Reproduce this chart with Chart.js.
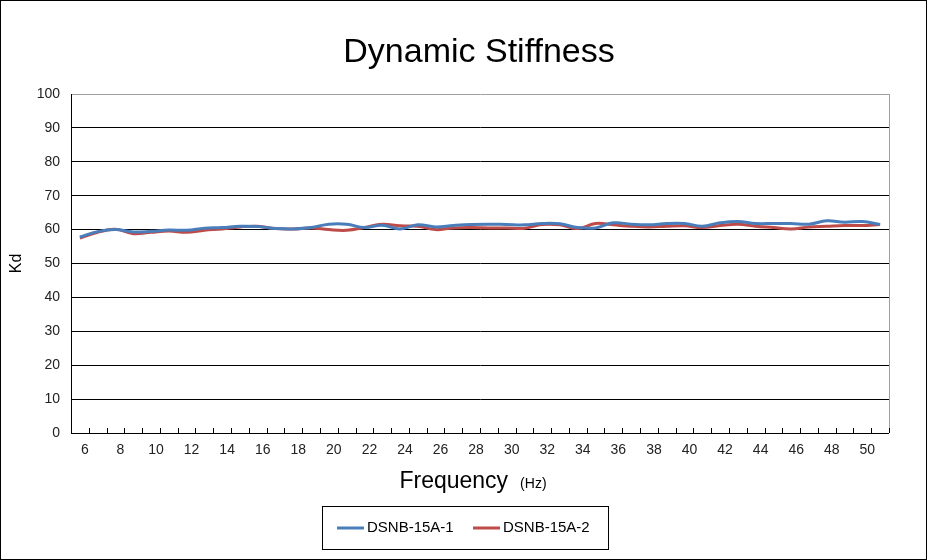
<!DOCTYPE html>
<html>
<head>
<meta charset="utf-8">
<script src="https://cdn.jsdelivr.net/npm/chart.js@4.4.1/dist/chart.umd.min.js"></script>
<style>
html,body{margin:0;padding:0;background:#fff;}
#wrap{width:927px;height:560px;position:relative;}
</style>
</head>
<body>
<div id="wrap"><canvas id="c" width="927" height="560"></canvas></div>
<script>
// ---- data ----
const freqs = [6,7,8,9,10,11,12,13,14,15,16,17,18,19,20,21,22,23,24,25,26,27,28,29,30,31,32,33,34,35,36,37,38,39,40,41,42,43,44,45,46,47,48,49,50,51];
const xTickLabels = ['6','8','10','12','14','16','18','20','22','24','26','28','30','32','34','36','38','40','42','44','46','48','50'];
const yTickValues = [0,10,20,30,40,50,60,70,80,90,100];
const seriesNames = ['DSNB-15A-1','DSNB-15A-2'];
const dsnb1 = [57.8,59.4,60.0,59.3,59.5,59.9,59.8,60.4,60.6,61.0,60.9,60.3,60.2,60.6,61.6,61.6,60.6,61.3,60.2,61.4,60.8,61.2,61.5,61.6,61.5,61.4,61.8,61.7,60.6,60.5,62.0,61.6,61.4,61.8,61.8,61.0,62.0,62.4,61.8,61.8,61.8,61.6,62.6,62.2,62.4,61.5];
const dsnb2 = [57.5,59.2,60.1,58.8,59.2,59.6,59.2,59.8,60.2,60.8,61.0,60.3,60.2,60.5,60.0,59.8,60.6,61.6,61.1,61.0,60.0,60.5,60.6,60.5,60.5,60.4,61.5,61.4,60.3,61.8,61.4,61.0,60.8,61.0,61.1,60.6,61.2,61.6,61.0,60.6,60.2,60.8,61.0,61.2,61.2,61.5];
const colors = ['#4a7ebb','#be4b48'];

const FONT = '"Liberation Sans", Arial, sans-serif';

const decor = {
  id: 'decor',
  beforeDraw(chart) {
    const ctx = chart.ctx;
    ctx.save();
    ctx.fillStyle = '#fff';
    ctx.fillRect(0, 0, chart.width, chart.height);
    ctx.restore();
  },
  beforeDatasetsDraw(chart) {
    const {ctx, chartArea: ca, scales: {x}} = chart;
    ctx.save();
    ctx.strokeStyle = '#a0a0a0';
    ctx.lineWidth = 1;
    ctx.beginPath();
    ctx.moveTo(Math.round(ca.right) + 0.5, ca.top);
    ctx.lineTo(Math.round(ca.right) + 0.5, ca.bottom);
    ctx.stroke();
    const step = x.getPixelForValue(1) - x.getPixelForValue(0);
    const start = x.getPixelForValue(0) - step / 2;
    ctx.strokeStyle = '#000';
    ctx.beginPath();
    for (let i = 0; i <= freqs.length; i++) {
      const px = Math.round(start + i * step) + 0.5;
      ctx.moveTo(px, ca.bottom);
      ctx.lineTo(px, ca.bottom - 5);
    }
    ctx.stroke();
    ctx.restore();
  },
  afterDraw(chart) {
    const {ctx, chartArea: ca} = chart;
    ctx.save();
    ctx.fillStyle = '#000';
    ctx.font = '34px ' + FONT;
    ctx.textAlign = 'center';
    ctx.textBaseline = 'alphabetic';
    ctx.fillText('Dynamic Stiffness', 479, 62);
    ctx.save();
    ctx.translate(21, (ca.top + ca.bottom) / 2);
    ctx.rotate(-Math.PI / 2);
    ctx.font = '16px ' + FONT;
    ctx.textAlign = 'center';
    ctx.fillText('Kd', 0, 0);
    ctx.restore();
    ctx.font = '23px ' + FONT;
    const t1 = 'Frequency';
    const w1 = ctx.measureText(t1).width;
    ctx.font = '14px ' + FONT;
    const t2 = '(Hz)';
    const w2 = ctx.measureText(t2).width;
    const gap = 12;
    const total = w1 + gap + w2;
    let sx = 473 - total / 2;
    ctx.textAlign = 'left';
    ctx.font = '23px ' + FONT;
    ctx.fillText(t1, sx, 488);
    ctx.font = '14px ' + FONT;
    ctx.fillText(t2, sx + w1 + gap, 488);
    const lx = 322, ly = 506, lw = 286, lh = 43;
    ctx.strokeStyle = '#000';
    ctx.lineWidth = 1;
    ctx.strokeRect(lx + 0.5, ly + 0.5, lw, lh);
    ctx.font = '15px ' + FONT;
    ctx.textBaseline = 'middle';
    const cy = ly + lh / 2 + 0.5;
    const starts = [337, 473];
    chart.data.datasets.forEach((ds, i) => {
      const x0 = starts[i];
      ctx.strokeStyle = ds.borderColor;
      ctx.lineWidth = 3;
      ctx.beginPath();
      ctx.moveTo(x0, cy);
      ctx.lineTo(x0 + 27, cy);
      ctx.stroke();
      ctx.fillStyle = '#000';
      ctx.fillText(ds.label, x0 + 30, cy);
    });
    ctx.strokeStyle = '#000';
    ctx.lineWidth = 1;
    ctx.strokeRect(0.5, 0.5, chart.width - 1, chart.height - 1);
    ctx.restore();
  }
};

new Chart(document.getElementById('c'), {
  type: 'line',
  data: {
    labels: freqs,
    datasets: [
      { label: seriesNames[0], data: dsnb1, borderColor: colors[0], backgroundColor: colors[0], borderWidth: 3, pointRadius: 0, tension: 0.4, fill: false },
      { label: seriesNames[1], data: dsnb2, borderColor: colors[1], backgroundColor: colors[1], borderWidth: 3, pointRadius: 0, tension: 0.4, fill: false }
    ]
  },
  options: {
    responsive: false,
    animation: false,
    devicePixelRatio: 1,
    layout: { padding: { left: 0, top: 94, right: 38, bottom: 0 } },
    plugins: {
      legend: { display: false },
      title: { display: false },
      tooltip: { enabled: false }
    },
    scales: {
      x: {
        type: 'category',
        offset: true,
        grid: { display: false, drawTicks: false },
        border: { display: false },
        ticks: {
          autoSkip: false,
          maxRotation: 0,
          padding: 9,
          labelOffset: 5,
          color: '#222',
          font: { family: FONT, size: 14 },
          callback: function(v, i) {
            const l = String(freqs[i]);
            return xTickLabels.includes(l) ? l : '';
          }
        },
        afterFit(scale) { scale.height = 127; }
      },
      y: {
        min: 0, max: 100,
        afterBuildTicks(scale) { scale.ticks = yTickValues.map(v => ({ value: v })); },
        grid: {
          drawTicks: false,
          color: ctx => (ctx.tick && ctx.tick.value === 100) ? '#a0a0a0' : '#000',
          lineWidth: 1
        },
        border: { display: true, color: '#000', width: 1 },
        ticks: {
          padding: 11,
          color: '#222',
          font: { family: FONT, size: 14 }
        },
        afterFit(scale) { scale.width = 71; }
      }
    }
  },
  plugins: [decor]
});
</script>
</body>
</html>
